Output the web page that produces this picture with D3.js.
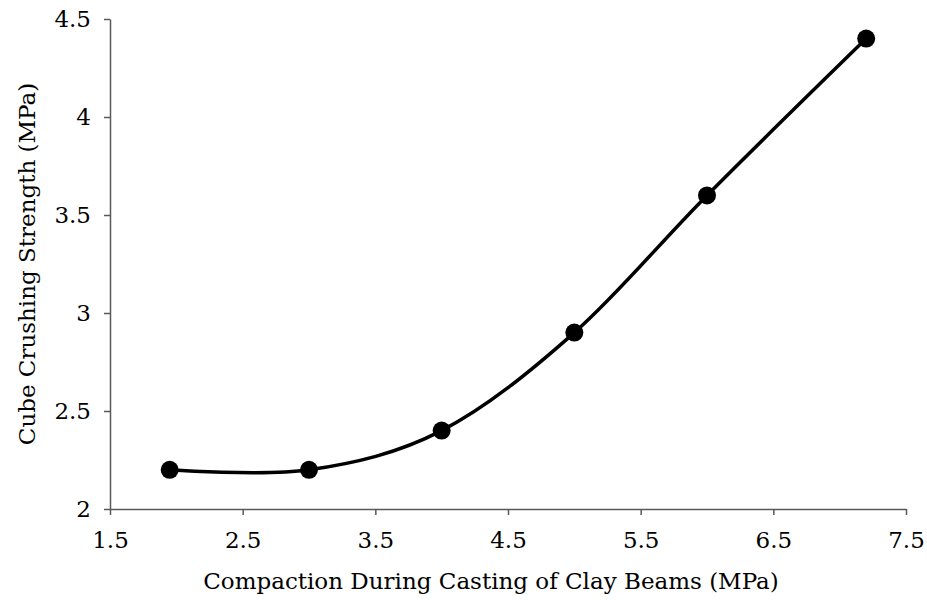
<!DOCTYPE html>
<html>
<head>
<meta charset="utf-8">
<script src="https://cdn.jsdelivr.net/npm/d3@7"></script>
<style>
  body { margin: 0; background: #fff; }
  text { font-family: "DejaVu Serif", serif; }
</style>
</head>
<body>
<script>
// values
const compaction = [1.95, 3, 4, 5, 6, 7.2]
const strength = [2.2, 2.2, 2.4, 2.9, 3.6, 4.4]
const xTicks = [1.5, 2.5, 3.5, 4.5, 5.5, 6.5, 7.5]
const yTicks = [2, 2.5, 3, 3.5, 4, 4.5]

const svgWidth = 927
const svgHeight = 600
const margin = {top: 19, right: 21, bottom: 91, left: 110}
const gWidth = svgWidth - margin.left - margin.right
const gHeight = svgHeight - margin.top - margin.bottom

const points = compaction.map(function(c, i) { return {x: c, y: strength[i]} })

const svg = d3.select("body").append("svg")
  .attr("width", svgWidth)
  .attr("height", svgHeight)

const g = svg.append("g")
  .attr("transform", "translate(" + margin.left + "," + margin.top + ")")

const xScale = d3.scaleLinear().domain([1.5, 7.5]).range([0, gWidth])
const yScale = d3.scaleLinear().domain([2, 4.5]).range([gHeight, 0])

const axisColor = "#595959"
const fontSize = "23px"

// x axis
const xAxis = d3.axisBottom(xScale)
  .tickValues(xTicks)
  .tickFormat(d3.format("~g"))
  .tickSize(6)
  .tickSizeOuter(0)
  .tickPadding(17)

const gx = g.append("g")
  .attr("transform", "translate(0," + gHeight + ")")
  .call(xAxis)
gx.select(".domain").attr("stroke", axisColor).attr("stroke-width", 1.5)
gx.selectAll(".tick line").attr("stroke", axisColor).attr("stroke-width", 1.5)
gx.selectAll(".tick text").attr("fill", "#000").style("font-size", fontSize)

// y axis
const yAxis = d3.axisLeft(yScale)
  .tickValues(yTicks)
  .tickFormat(d3.format("~g"))
  .tickSize(6)
  .tickSizeOuter(0)
  .tickPadding(13)

const gy = g.append("g").call(yAxis)
gy.select(".domain").attr("stroke", axisColor).attr("stroke-width", 1.5)
gy.selectAll(".tick line").attr("stroke", axisColor).attr("stroke-width", 1.5)
gy.selectAll(".tick text").attr("fill", "#000").style("font-size", fontSize)

// smoothed line
const line = d3.line()
  .x(function(d) { return xScale(d.x) })
  .y(function(d) { return yScale(d.y) })
  .curve(d3.curveCatmullRom.alpha(0))

g.append("path")
  .datum(points)
  .attr("d", line)
  .attr("fill", "none")
  .attr("stroke", "#000")
  .attr("stroke-width", 3.5)

g.selectAll(".dot")
  .data(points)
  .enter().append("circle")
  .attr("class", "dot")
  .attr("cx", function(d) { return xScale(d.x) })
  .attr("cy", function(d) { return yScale(d.y) })
  .attr("r", 9)
  .attr("fill", "#000")

// axis titles
svg.append("text")
  .attr("x", 491)
  .attr("y", 589)
  .attr("text-anchor", "middle")
  .style("font-size", fontSize)
  .text("Compaction During Casting of Clay Beams (MPa)")

svg.append("text")
  .attr("transform", "translate(35," + (margin.top + gHeight / 2) + ") rotate(-90)")
  .attr("text-anchor", "middle")
  .style("font-size", fontSize)
  .text("Cube Crushing Strength (MPa)")
</script>
</body>
</html>
